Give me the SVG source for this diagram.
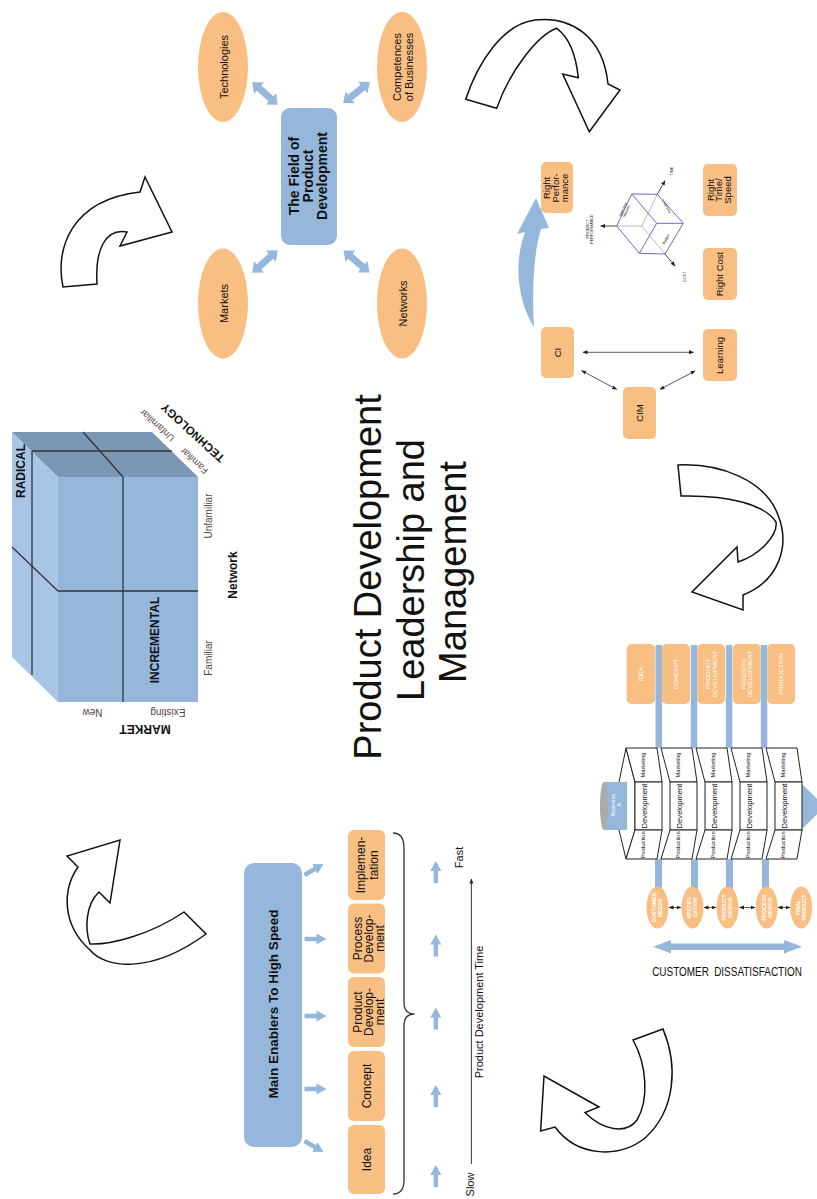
<svg xmlns="http://www.w3.org/2000/svg" width="817" height="1199" viewBox="0 0 817 1199">
<style>
text{font-family:'Liberation Sans',Arial,sans-serif;fill:#111}
.b{font-weight:bold}
.or{fill:#F9BE82}
.bl{fill:#95B7DC}
.big{fill:#fff;stroke:#111;stroke-width:1.5;stroke-linejoin:miter}
.ln{stroke:#333;stroke-width:1.3;fill:none}
.thin{stroke:#333;stroke-width:0.8;fill:none;marker-start:url(#ah);marker-end:url(#ah)}
.face{fill:#fff;stroke:#222;stroke-width:1}
.wt{fill:#fff}
.lab{fill:#553f3f}
</style>
<defs>
<marker id="ah" viewBox="0 0 10 10" refX="9" refY="5" markerWidth="5" markerHeight="5" markerUnits="userSpaceOnUse" orient="auto-start-reverse"><path d="M0,1 L10,5 L0,9 Z" fill="#222"/></marker>
<path id="sa" d="M0,-2.2 L12,-2.2 L12,-5.5 L22,0 L12,5.5 L12,2.2 L0,2.2 Z"/>
<path id="da" d="M-17,0 L-8,-7.5 L-8,-3.5 L8,-3.5 L8,-7.5 L17,0 L8,7.5 L8,3.5 L-8,3.5 L-8,7.5 Z"/>
</defs>

<!-- Title -->
<g id="title">
<text transform="translate(381,577) rotate(-90)" text-anchor="middle" font-size="38">Product Development</text>
<text transform="translate(423.5,570) rotate(-90)" text-anchor="middle" font-size="38">Leadership and</text>
<text transform="translate(466,572) rotate(-90)" text-anchor="middle" font-size="38">Management</text>
</g>

<!-- Big cycle arrows -->
<g id="cycle-arrows">
<path class="big" d="M63,287 C55,250 70,200 140,192 L145,177 L172,232 L120,246 L127,232 C105,228 95,250 97,284 Z"/>
<path class="big" d="M465.7,99.3 C478,62 503,24 535,20 C570,16 603,35 608,84 L620,90 L589.3,131.7 L562.7,74 L578.3,77.7 C576,55 570,38 556.7,28.3 C538,35 510,70 496.7,108.3 Z"/>
<path class="big" d="M678,465 C720,463 765,480 778,515 C790,545 780,580 743,595 L743,610 L692,592 L737,547 L738,562 C760,555 778,535 776,522 C765,505 730,495 681,496 Z"/>
<path class="big" d="M633,1040 L663,1029 C678,1065 676,1110 645,1138 C620,1158 578,1158 555,1127 L540.6,1131 L544,1076 L599,1107 L585,1112.6 C602,1130 626,1135 637,1120 C649,1100 647,1065 633,1040 Z"/>
<path class="big" d="M78,867 C62,890 62,925 90,950 C105,968 150,975 206,934 L184,912 C150,935 110,945 90,944 C85,930 85,905 99,892 L110,903 L120,840 L67,856 Z"/>
</g>

<!-- Field of Product Development -->
<g id="field">
<rect x="281" y="108" width="56" height="137" rx="9" class="bl"/>
<text class="b" font-size="14" text-anchor="middle" transform="translate(299,176) rotate(-90)"><tspan x="0" y="0">The Field of</tspan><tspan x="0" dy="14">Product</tspan><tspan x="0" dy="14">Development</tspan></text>
</g>
<g id="technologies">
<ellipse cx="223" cy="67" rx="25" ry="55" class="or"/>
<text font-size="11" text-anchor="middle" transform="translate(228,67) rotate(-90)">Technologies</text>
</g>
<g id="competences">
<ellipse cx="402" cy="67" rx="25" ry="55" class="or"/>
<text font-size="11" text-anchor="middle" transform="translate(401,67) rotate(-90)"><tspan x="0" y="0">Competences</tspan><tspan x="0" dy="12">of Businesses</tspan></text>
</g>
<g id="markets">
<ellipse cx="223" cy="303.5" rx="25" ry="55" class="or"/>
<text font-size="11" text-anchor="middle" transform="translate(228,303.5) rotate(-90)">Markets</text>
</g>
<g id="networks">
<ellipse cx="402" cy="303.5" rx="25" ry="55" class="or"/>
<text font-size="11" text-anchor="middle" transform="translate(407,303.5) rotate(-90)">Networks</text>
</g>
<g id="field-connectors" class="bl">
<use href="#da" transform="translate(265,93.5) rotate(41.5)"/>
<use href="#da" transform="translate(356.5,92.5) rotate(-38)"/>
<use href="#da" transform="translate(265,261.5) rotate(-41.5)"/>
<use href="#da" transform="translate(356.5,261.5) rotate(40)"/>
</g>

<!-- Cube -->
<g id="cube">
<polygon points="12,432 58,477 58,702 12,657" fill="#A8C5E5"/>
<polygon points="12,432 152,432 198,477 58,477" fill="#7C97B5"/>
<rect x="58" y="477" width="140" height="225" fill="#95B7DC"/>
<line x1="123" y1="477" x2="123" y2="702" class="ln"/>
<line x1="58" y1="591" x2="198" y2="591" class="ln"/>
<line x1="12" y1="547" x2="58" y2="591" class="ln"/>
<line x1="32" y1="451" x2="32" y2="675" class="ln"/>
<line x1="32" y1="451" x2="172" y2="451" class="ln"/>
<line x1="83" y1="432" x2="123" y2="477" class="ln"/>
<text class="b" font-size="12" text-anchor="middle" transform="translate(25,471) rotate(-90)">RADICAL</text>
<text class="b" font-size="12" text-anchor="middle" transform="translate(159,640) rotate(-90)">INCREMENTAL</text>
<text class="lab" font-size="10" text-anchor="middle" transform="translate(212,516) rotate(-90)">Unfamiliar</text>
<text class="lab" font-size="10" text-anchor="middle" transform="translate(212,658) rotate(-90)">Familiar</text>
<text class="b" font-size="12" text-anchor="middle" transform="translate(237,575) rotate(-90)">Network</text>
<text class="b" font-size="12" text-anchor="middle" transform="translate(145,725) rotate(180)">MARKET</text>
<text class="lab" font-size="10" text-anchor="middle" transform="translate(92.5,708.5) rotate(180)">New</text>
<text class="lab" font-size="10" text-anchor="middle" transform="translate(168,708.5) rotate(180)">Existing</text>
<text class="b" font-size="11.5" text-anchor="middle" transform="translate(195.5,430) rotate(222.4)">TECHNOLOGY</text>
<text class="lab" font-size="9.5" text-anchor="middle" transform="translate(196.4,458.4) rotate(222.4)">Familiar</text>
<text class="lab" font-size="9.5" text-anchor="middle" transform="translate(159.4,422.9) rotate(222.4)">Unfamiliar</text>
</g>

<!-- Enablers -->
<g id="enablers">
<rect x="244" y="863" width="58" height="284" rx="10" class="bl"/>
<text class="b" font-size="13.5" text-anchor="middle" transform="translate(278,1004) rotate(-90)">Main Enablers To High Speed</text>
</g>
<g id="enabler-arrows" class="bl">
<use href="#sa" transform="translate(304.5,875) rotate(-30)"/>
<use href="#sa" transform="translate(304.5,939)"/>
<use href="#sa" transform="translate(304.5,1016)"/>
<use href="#sa" transform="translate(304.5,1089)"/>
<use href="#sa" transform="translate(304.5,1141) rotate(30)"/>
</g>
<g id="implementation">
<rect x="348" y="830" width="37" height="70" rx="6" class="or"/>
<text font-size="12" text-anchor="middle" transform="translate(365,865) rotate(-90)"><tspan x="0" y="0">Implemen-</tspan><tspan x="0" dy="12.5">tation</tspan></text>
</g>
<g id="process-dev">
<rect x="348" y="903.5" width="37" height="70" rx="6" class="or"/>
<text font-size="12" text-anchor="middle" transform="translate(362,938.5) rotate(-90)"><tspan x="0" y="0">Process</tspan><tspan x="0" dy="11">Develop-</tspan><tspan x="0" dy="11">ment</tspan></text>
</g>
<g id="product-dev">
<rect x="348" y="977" width="37" height="70" rx="6" class="or"/>
<text font-size="12" text-anchor="middle" transform="translate(362,1012) rotate(-90)"><tspan x="0" y="0">Product</tspan><tspan x="0" dy="11">Develop-</tspan><tspan x="0" dy="11">ment</tspan></text>
</g>
<g id="concept">
<rect x="348" y="1051" width="37" height="70" rx="6" class="or"/>
<text font-size="12" text-anchor="middle" transform="translate(370.8,1086) rotate(-90)">Concept</text>
</g>
<g id="idea">
<rect x="348" y="1125" width="37" height="69" rx="6" class="or"/>
<text font-size="12" text-anchor="middle" transform="translate(370.8,1159.5) rotate(-90)">Idea</text>
</g>
<g id="brace">
<path class="ln" stroke-width="1" d="M393,833 C400,833 404,838 404,848 L404,1002 C404,1010 408,1014 414.5,1014 C408,1014 404,1018 404,1026 L404,1180 C404,1190 400,1194 393,1194"/>
</g>
<g id="speed-arrows" class="bl">
<use href="#sa" transform="translate(435.8,883) rotate(-90)"/>
<use href="#sa" transform="translate(435.8,956.5) rotate(-90)"/>
<use href="#sa" transform="translate(435.8,1029.6) rotate(-90)"/>
<use href="#sa" transform="translate(435.8,1107) rotate(-90)"/>
<use href="#sa" transform="translate(435.8,1187) rotate(-90)"/>
</g>
<g id="time-axis">
<line x1="471.4" y1="1164" x2="471.4" y2="879" stroke="#222" stroke-width="0.9" marker-end="url(#ah)"/>
<text font-size="11" text-anchor="middle" transform="translate(463,857.5) rotate(-90)">Fast</text>
<text font-size="11" text-anchor="middle" transform="translate(474,1184.5) rotate(-90)">Slow</text>
<text font-size="11" text-anchor="middle" transform="translate(483,1012) rotate(-90)">Product Development Time</text>
</g>

<!-- Right top cluster -->
<g id="right-performance">
<rect x="541" y="162" width="32" height="51" rx="5" class="or"/>
<text font-size="9.5" text-anchor="middle" transform="translate(550,188) rotate(-90)"><tspan x="0" y="0">Right</tspan><tspan x="0" dy="8.8">Perfor-</tspan><tspan x="0" dy="8.8">mance</tspan></text>
</g>
<g id="right-time">
<rect x="703" y="164" width="34" height="52" rx="5" class="or"/>
<text font-size="9.5" text-anchor="middle" transform="translate(713.5,190) rotate(-90)"><tspan x="0" y="0">Right</tspan><tspan x="0" dy="8.8">Time/</tspan><tspan x="0" dy="8.8">Speed</tspan></text>
</g>
<g id="right-cost">
<rect x="703" y="248" width="34" height="52" rx="5" class="or"/>
<text font-size="9.5" text-anchor="middle" transform="translate(722.5,274) rotate(-90)">Right Cost</text>
</g>
<g id="ci">
<rect x="541" y="327" width="33" height="51" rx="5" class="or"/>
<text font-size="9.5" text-anchor="middle" transform="translate(560.5,352.5) rotate(-90)">CI</text>
</g>
<g id="learning">
<rect x="703" y="329" width="34" height="52" rx="5" class="or"/>
<text font-size="9.5" text-anchor="middle" transform="translate(723,355.5) rotate(-90)">Learning</text>
</g>
<g id="cim">
<rect x="623" y="387" width="33" height="52" rx="5" class="or"/>
<text font-size="9.5" text-anchor="middle" transform="translate(642.5,413) rotate(-90)">CIM</text>
</g>
<g id="right-connectors">
<line x1="583" y1="352.3" x2="693.5" y2="352.3" class="thin"/>
<line x1="581.7" y1="370.7" x2="616.7" y2="389.3" class="thin"/>
<line x1="695" y1="371" x2="660" y2="389.3" class="thin"/>
<path class="bl" d="M536,198 L549,228 L541,229 C533,255 532,295 534,327 C520,305 512,268 525,232 L517,234 Z"/>
</g>
<g id="triple-cube">
<g stroke="#aaa" stroke-width="0.8">
<line x1="641.7" y1="226" x2="616.7" y2="226"/>
<line x1="641.7" y1="226" x2="657.3" y2="194.3"/>
<line x1="641.7" y1="226" x2="665" y2="254"/>
</g>
<g stroke="#333" stroke-width="0.9" marker-end="url(#ah)">
<line x1="616.7" y1="226" x2="600.7" y2="226"/>
<line x1="657.3" y1="194.3" x2="665" y2="180.7"/>
<line x1="665" y1="254" x2="675" y2="266"/>
</g>
<g stroke="#6a6ac4" stroke-width="1" fill="none">
<polygon points="616.7,226 631.7,194 657.3,194.3 683.3,223.3 665,254 639.3,253.3"/>
<polyline points="631.7,194 656.7,223.3 683.3,223.3"/>
<line x1="656.7" y1="223.3" x2="639.3" y2="253.3"/>
</g>
<text font-size="3.8" text-anchor="middle" transform="translate(588.5,229) rotate(-90)"><tspan x="0" y="0">PRODUCT</tspan><tspan x="0" dy="4">PERFORMANCE</tspan></text>
<text font-size="3.8" text-anchor="middle" transform="translate(672.5,171) rotate(-90)">TIME</text>
<text font-size="3.8" text-anchor="middle" transform="translate(686,277) rotate(-90)">COST</text>
<text font-size="3.5" fill="#555" text-anchor="middle" transform="translate(624,210) rotate(-65)"><tspan x="0" y="0">Specified</tspan><tspan x="0" dy="3.8">features</tspan></text>
<text font-size="3.5" fill="#555" text-anchor="middle" transform="translate(665.5,207) rotate(60)">Lead time</text>
<text font-size="3.5" fill="#555" text-anchor="middle" transform="translate(667,240) rotate(-60)">Budget</text>
</g>

<!-- Process diagram -->
<g id="process-bars" class="bl">
<rect x="655.5" y="645" width="6.5" height="103"/>
<rect x="690.8" y="645" width="6.5" height="103"/>
<rect x="725.8" y="645" width="6.5" height="103"/>
<rect x="760.8" y="645" width="6.5" height="103"/>
<rect x="655" y="859" width="7" height="30"/>
<rect x="691" y="859" width="7" height="30"/>
<rect x="726" y="859" width="7" height="30"/>
<rect x="762" y="859" width="7" height="30"/>
</g>
<g id="stage-idea">
<rect x="626.7" y="644" width="28.3" height="60" rx="5" class="or"/>
<text class="wt" font-size="6.2" text-anchor="middle" transform="translate(643,674) rotate(-90)">IDEA</text>
</g>
<g id="stage-concept">
<rect x="661.7" y="644" width="28.3" height="60" rx="5" class="or"/>
<text class="wt" font-size="6.2" text-anchor="middle" transform="translate(678,674) rotate(-90)">CONCEPT</text>
</g>
<g id="stage-product">
<rect x="697.3" y="644" width="27.7" height="60" rx="5" class="or"/>
<text class="wt" font-size="6.2" text-anchor="middle" transform="translate(710,674) rotate(-90)"><tspan x="0" y="0">PRODUCT</tspan><tspan x="0" dy="6.5">DEVELOPMENT</tspan></text>
</g>
<g id="stage-process">
<rect x="732.7" y="644" width="28" height="60" rx="5" class="or"/>
<text class="wt" font-size="6.2" text-anchor="middle" transform="translate(745.5,674) rotate(-90)"><tspan x="0" y="0">PROCESS</tspan><tspan x="0" dy="6.5">DEVELOPMENT</tspan></text>
</g>
<g id="stage-production">
<rect x="767.3" y="644" width="27.7" height="60" rx="5" class="or"/>
<text class="wt" font-size="6.2" text-anchor="middle" transform="translate(783.3,674) rotate(-90)">PRODUCTION</text>
</g>
<g id="pencil">
<polygon points="626,748 619,782 619,830 626,859 635,830 635,782" class="face"/>
<polygon points="802,784 825,806.5 802,829" class="bl"/>
<g id="blocks">
<g>
<polygon points="626,748 657,748 662,782 635,782" class="face"/><rect x="635" y="782" width="27" height="48" class="face"/><polygon points="635,830 662,830 657,859 626,859" class="face"/>
</g>
<g transform="translate(35,0)">
<polygon points="626,748 657,748 662,782 635,782" class="face"/><rect x="635" y="782" width="27" height="48" class="face"/><polygon points="635,830 662,830 657,859 626,859" class="face"/>
</g>
<g transform="translate(70,0)">
<polygon points="626,748 657,748 662,782 635,782" class="face"/><rect x="635" y="782" width="27" height="48" class="face"/><polygon points="635,830 662,830 657,859 626,859" class="face"/>
</g>
<g transform="translate(105,0)">
<polygon points="626,748 657,748 662,782 635,782" class="face"/><rect x="635" y="782" width="27" height="48" class="face"/><polygon points="635,830 662,830 657,859 626,859" class="face"/>
</g>
<g transform="translate(140,0)">
<polygon points="626,748 657,748 662,782 635,782" class="face"/><rect x="635" y="782" width="27" height="48" class="face"/><polygon points="635,830 662,830 657,859 626,859" class="face"/>
</g>
</g>
<g font-size="5.7" text-anchor="middle">
<text transform="translate(644.5,765) rotate(-90)">Marketing</text>
<text transform="translate(679.5,765) rotate(-90)">Marketing</text>
<text transform="translate(714.5,765) rotate(-90)">Marketing</text>
<text transform="translate(749.5,765) rotate(-90)">Marketing</text>
<text transform="translate(784.5,765) rotate(-90)">Marketing</text>
<text transform="translate(644.5,845) rotate(-90)">Production</text>
<text transform="translate(679.5,845) rotate(-90)">Production</text>
<text transform="translate(714.5,845) rotate(-90)">Production</text>
<text transform="translate(749.5,845) rotate(-90)">Production</text>
<text transform="translate(784.5,845) rotate(-90)">Production</text>
</g>
<g font-size="7.6" text-anchor="middle">
<text transform="translate(647,806) rotate(-90)">Development</text>
<text transform="translate(682,806) rotate(-90)">Development</text>
<text transform="translate(717,806) rotate(-90)">Development</text>
<text transform="translate(752,806) rotate(-90)">Development</text>
<text transform="translate(787,806) rotate(-90)">Development</text>
</g>
</g>
<g id="business-a">
<rect x="604" y="782" width="23" height="48" class="bl"/>
<ellipse cx="604" cy="806" rx="4" ry="24" fill="#aaa"/>
<text class="wt" font-size="5.5" text-anchor="middle" transform="translate(614.5,805) rotate(-90)"><tspan x="0" y="0">Business</tspan><tspan x="0" dy="6.5">A</tspan></text>
</g>
<g id="customer-needs">
<ellipse cx="657.5" cy="907.5" rx="11" ry="21" class="or"/>
<text class="wt b" font-size="5.3" text-anchor="middle" transform="translate(656.4,907.5) rotate(-90)"><tspan x="0" y="0">CUSTOMER</tspan><tspan x="0" dy="6">NEEDS</tspan></text>
</g>
<g id="specification">
<ellipse cx="692.5" cy="907.5" rx="11" ry="21" class="or"/>
<text class="wt b" font-size="5.3" text-anchor="middle" transform="translate(691.4,907.5) rotate(-90)"><tspan x="0" y="0">SPECIFI-</tspan><tspan x="0" dy="6">CATION</tspan></text>
</g>
<g id="product-design">
<ellipse cx="727.5" cy="907.5" rx="11" ry="21" class="or"/>
<text class="wt b" font-size="5.3" text-anchor="middle" transform="translate(726.4,907.5) rotate(-90)"><tspan x="0" y="0">PRODUCT</tspan><tspan x="0" dy="6">DESIGN</tspan></text>
</g>
<g id="process-design">
<ellipse cx="766.7" cy="907.5" rx="11" ry="21" class="or"/>
<text class="wt b" font-size="5.3" text-anchor="middle" transform="translate(765.6,907.5) rotate(-90)"><tspan x="0" y="0">PROCESS</tspan><tspan x="0" dy="6">DESIGN</tspan></text>
</g>
<g id="final-product">
<ellipse cx="801.2" cy="907.5" rx="11" ry="21" class="or"/>
<text class="wt b" font-size="5.3" text-anchor="middle" transform="translate(800.1,907.5) rotate(-90)"><tspan x="0" y="0">FINAL</tspan><tspan x="0" dy="6">PRODUCT</tspan></text>
</g>
<g id="process-connectors">
<line x1="669" y1="907.5" x2="681" y2="907.5" class="thin"/>
<line x1="704" y1="907.5" x2="716" y2="907.5" class="thin"/>
<line x1="739.5" y1="907.5" x2="755" y2="907.5" class="thin"/>
<line x1="778" y1="907.5" x2="790" y2="907.5" class="thin"/>
<path class="bl" d="M653,946.7 L671,940 L671,943.5 L784,943.5 L784,940 L802,946.7 L784,953.4 L784,950 L671,950 L671,953.4 Z"/>
</g>
<g id="dissatisfaction">
<text font-size="12" fill="#2a2a3a" text-anchor="middle" transform="translate(727,976) scale(0.83,1)" word-spacing="3">CUSTOMER DISSATISFACTION</text>
</g>
</svg>
